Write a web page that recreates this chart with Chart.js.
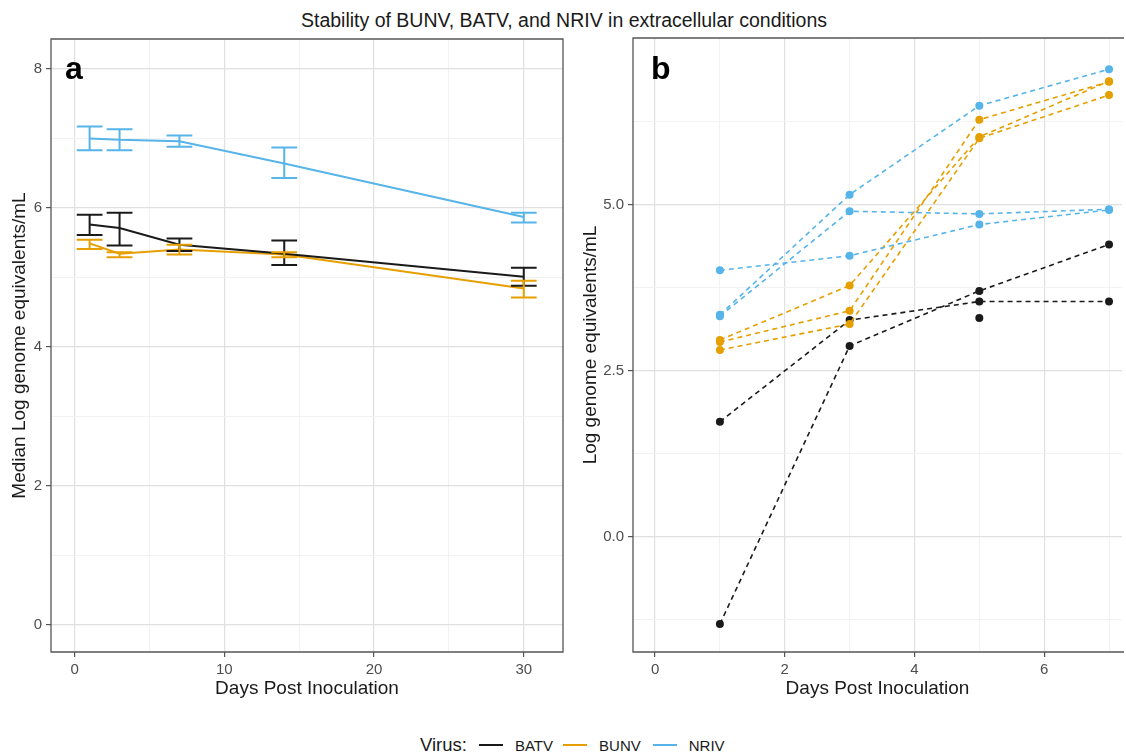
<!DOCTYPE html>
<html>
<head>
<meta charset="utf-8">
<script src="https://cdn.jsdelivr.net/npm/chart.js@4.4.0/dist/chart.umd.min.js"></script>
<style>
  body { margin: 0; background: #fff; font-family: "Liberation Sans", Arial, sans-serif; }
  #page { position: relative; width: 1126px; height: 753px; overflow: hidden; }
  #title { position: absolute; top: 9px; left: 0; width: 1128px; text-align: center; font-size: 19.5px; color: #1a1a1a; }
  #chartA { position: absolute; left: 0; top: 0; }
  #chartB { position: absolute; left: 575px; top: 0; }
  .tag { position: absolute; font-weight: bold; font-size: 32px; color: #000; line-height: 1; }
  #legend { position: absolute; top: 734px; left: 420px; display: flex; align-items: center;
            font-size: 15px; color: #1a1a1a; white-space: nowrap; }
  #legend .sw { display: inline-block; width: 24px; height: 2px; margin: 0 12px 0 12px; }
</style>
</head>
<body>
<div id="page">
  <div id="title">Stability of BUNV, BATV, and NRIV in extracellular conditions</div>
  <canvas id="chartA" width="575" height="715"></canvas>
  <canvas id="chartB" width="551" height="715"></canvas>
  <div class="tag" style="left:65px; top:52px;">a</div>
  <div class="tag" style="left:651px; top:52px;">b</div>
  <div id="legend">
    <span style="font-size:18.5px;">Virus:</span>
    <span class="sw" style="background:#1a1a1a"></span><span>BATV</span>
    <span class="sw" style="background:#E69F00; margin-left:10px;"></span><span>BUNV</span>
    <span class="sw" style="background:#56B4E9; margin-left:12px;"></span><span>NRIV</span>
  </div>
</div>
<script>
// ---- panel a: medians with error bars ----
const days = [1, 3, 7, 14, 30];
const batvMedian = [5.76, 5.71, 5.47, 5.34, 5.01];
const batvLow    = [5.61, 5.46, 5.38, 5.18, 4.88];
const batvHigh   = [5.90, 5.93, 5.56, 5.53, 5.14];
const bunvMedian = [5.49, 5.34, 5.40, 5.33, 4.84];
const bunvLow    = [5.41, 5.29, 5.33, 5.29, 4.71];
const bunvHigh   = [5.54, 5.36, 5.47, 5.36, 4.95];
const nrivMedian = [7.00, 6.98, 6.96, 6.64, 5.87];
const nrivLow    = [6.83, 6.83, 6.88, 6.43, 5.79];
const nrivHigh   = [7.17, 7.13, 7.04, 6.87, 5.93];

const aXTicks = [0, 10, 20, 30];
const aXMinor = [5, 15, 25];
const aYTicks = [0, 2, 4, 6, 8];
const aYMinor = [1, 3, 5, 7];

// ---- panel b: replicates ----
const repDays = [1, 3, 5, 7];
const batvRep1 = [1.73, 3.26, 3.54, 3.54];
const batvRep2 = [-1.32, 2.87, 3.70, 4.40];
const batvRep3 = [null, null, 3.29, null];
const bunvRep1 = [2.96, 3.78, 6.02, 6.86];
const bunvRep2 = [2.93, 3.40, 6.28, 6.85];
const bunvRep3 = [2.81, 3.20, 6.00, 6.65];
const nrivRep1 = [3.34, 5.15, 6.49, 7.04];
const nrivRep2 = [3.32, 4.90, 4.86, 4.93];
const nrivRep3 = [4.01, 4.23, 4.70, 4.92];

const bXTicks = [0, 2, 4, 6];
const bXMinor = [1, 3, 5, 7];
const bYTicks = [0, 2.5, 5.0];
const bYMinor = [-1.25, 1.25, 3.75, 6.25];

const colors = { BATV: '#1a1a1a', BUNV: '#E69F00', NRIV: '#56B4E9' };
const FONT = "'Liberation Sans', Arial, sans-serif";

function pts(xs, ys) {
  return xs.map((x, i) => ({ x: x, y: ys[i] }));
}

// panel frame
const panelBox = {
  id: 'panelBox',
  afterDraw(chart, args, opts) {
    const { ctx, chartArea: a } = chart;
    ctx.save();
    ctx.strokeStyle = '#555';
    ctx.lineWidth = 1.3;
    ctx.beginPath();
    if (opts.right !== false) {
      ctx.rect(a.left, a.top, a.right - a.left, a.bottom - a.top);
    } else {
      ctx.moveTo(a.right + 2, a.top); ctx.lineTo(a.left, a.top);
      ctx.lineTo(a.left, a.bottom); ctx.lineTo(a.right + 2, a.bottom);
    }
    ctx.stroke();
    ctx.restore();
  }
};

// error bars for panel a
const capHalf = 0.86;
const errorBars = {
  id: 'errorBars',
  afterDatasetsDraw(chart) {
    const { ctx, scales: { x, y } } = chart;
    chart.data.datasets.forEach(ds => {
      if (!ds.errLow) return;
      ctx.save();
      ctx.strokeStyle = ds.borderColor;
      ctx.lineWidth = 2;
      ds.data.forEach((p, i) => {
        const px = x.getPixelForValue(p.x);
        const x0 = x.getPixelForValue(p.x - capHalf);
        const x1 = x.getPixelForValue(p.x + capHalf);
        const yl = y.getPixelForValue(ds.errLow[i]);
        const yh = y.getPixelForValue(ds.errHigh[i]);
        ctx.beginPath();
        ctx.moveTo(px, yl); ctx.lineTo(px, yh);
        ctx.moveTo(x0, yl); ctx.lineTo(x1, yl);
        ctx.moveTo(x0, yh); ctx.lineTo(x1, yh);
        ctx.stroke();
      });
      ctx.restore();
    });
  }
};

function axis(opts) {
  const all = opts.major.concat(opts.minor).sort((a, b) => a - b);
  const isMajor = v => opts.major.some(m => Math.abs(m - v) < 1e-9);
  return {
    type: 'linear',
    min: opts.min,
    max: opts.max,
    afterBuildTicks: s => { s.ticks = all.map(v => ({ value: v })); },
    afterFit: s => { if (opts.width) s.width = opts.width; if (opts.height) s.height = opts.height; },
    border: { display: false },
    grid: {
      drawTicks: true,
      tickLength: 5,
      color: c => isMajor(c.tick.value) ? '#e0e0e0' : '#f1f1f1',
      tickColor: c => isMajor(c.tick.value) ? '#555' : 'rgba(0,0,0,0)',
      lineWidth: c => isMajor(c.tick.value) ? 1.2 : 0.9
    },
    ticks: {
      autoSkip: false,
      maxRotation: 0,
      padding: opts.pad,
      color: '#4d4d4d',
      font: { family: FONT, size: 15 },
      callback: v => isMajor(v) ? (opts.fmt ? opts.fmt(v) : String(v)) : ''
    },
    title: {
      display: true,
      text: opts.title,
      color: '#1a1a1a',
      font: { family: FONT, size: 19 },
      padding: opts.titlePad
    }
  };
}

const aDatasets = [
  { label: 'BATV', med: batvMedian, lo: batvLow, hi: batvHigh },
  { label: 'BUNV', med: bunvMedian, lo: bunvLow, hi: bunvHigh },
  { label: 'NRIV', med: nrivMedian, lo: nrivLow, hi: nrivHigh }
].map(d => ({
  label: d.label,
  data: pts(days, d.med),
  errLow: d.lo,
  errHigh: d.hi,
  borderColor: colors[d.label],
  borderWidth: 2,
  pointRadius: 0,
  tension: 0,
  fill: false
}));

new Chart(document.getElementById('chartA'), {
  type: 'line',
  data: { datasets: aDatasets },
  plugins: [errorBars, panelBox],
  options: {
    responsive: false,
    animation: false,
    layout: { padding: { top: 39, right: 12, left: 0, bottom: 0 } },
    plugins: { legend: { display: false }, tooltip: { enabled: false }, panelBox: {} },
    scales: {
      x: axis({ min: -1.58, max: 32.62, major: aXTicks, minor: aXMinor, height: 63, pad: 4,
                title: 'Days Post Inoculation', titlePad: { top: 0, bottom: 15 } }),
      y: axis({ min: -0.39, max: 8.43, major: aYTicks, minor: aYMinor, width: 51, pad: 4,
                title: 'Median Log genome equivalents/mL', titlePad: { top: 8, bottom: 0 } })
    }
  }
});

const bGroups = [
  { label: 'NRIV', reps: [nrivRep1, nrivRep2, nrivRep3] },
  { label: 'BUNV', reps: [bunvRep1, bunvRep2, bunvRep3] },
  { label: 'BATV', reps: [batvRep1, batvRep2, batvRep3] }
];
const bDatasets = [];
bGroups.forEach(g => {
  g.reps.forEach((r, ri) => {
    bDatasets.push({
      label: g.label + ' ' + (ri + 1),
      data: pts(repDays, r),
      borderColor: colors[g.label],
      backgroundColor: colors[g.label],
      borderWidth: 1.6,
      borderDash: [5, 4],
      pointRadius: 4,
      pointBorderWidth: 0,
      spanGaps: false,
      tension: 0,
      fill: false
    });
  });
});

new Chart(document.getElementById('chartB'), {
  type: 'line',
  data: { datasets: bDatasets },
  plugins: [panelBox],
  options: {
    responsive: false,
    animation: false,
    layout: { padding: { top: 38, right: 0, left: 0, bottom: 0 } },
    plugins: { legend: { display: false }, tooltip: { enabled: false }, panelBox: { right: false } },
    scales: {
      x: axis({ min: -0.34, max: 7.2, major: bXTicks, minor: bXMinor, height: 63, pad: 4,
                title: 'Days Post Inoculation', titlePad: { top: 0, bottom: 15 } }),
      y: axis({ min: -1.74, max: 7.51, major: bYTicks, minor: bYMinor, width: 58, pad: 4,
                fmt: v => v.toFixed(1),
                title: 'Log genome equivalents/mL', titlePad: { top: 4, bottom: 0 } })
    }
  }
});
</script>
</body>
</html>
